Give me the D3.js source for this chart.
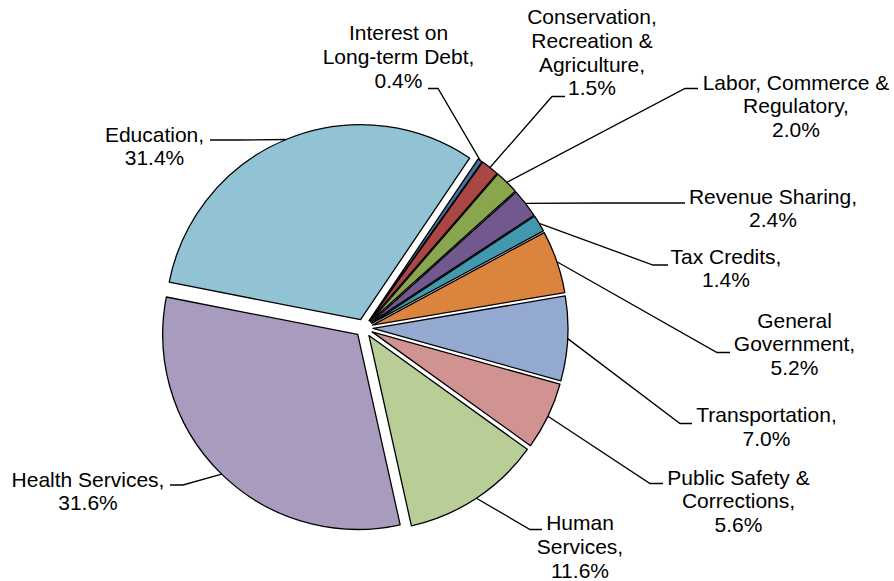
<!DOCTYPE html>
<html>
<head>
<meta charset="utf-8">
<script src="https://cdn.jsdelivr.net/npm/d3@7"></script>
<style>
  body { margin: 0; background: #fff; }
  svg { display: block; font-family: "Liberation Sans", Arial, sans-serif; }
</style>
</head>
<body>
<div id="chart"></div>
<script>
// Spending categories, clockwise from the top right
const categories = [
    ["Interest on", "Long-term Debt,"],
    ["Conservation,", "Recreation &", "Agriculture,"],
    ["Labor, Commerce &", "Regulatory,"],
    ["Revenue Sharing,"],
    ["Tax Credits,"],
    ["General", "Government,"],
    ["Transportation,"],
    ["Public Safety &", "Corrections,"],
    ["Human", "Services,"],
    ["Health Services,"],
    ["Education,"]
];

// Share of total, percent
const shares = [0.4, 1.5, 2.0, 2.4, 1.4, 5.2, 7.0, 5.6, 11.6, 31.6, 31.4];

const colors = ["#4572A7", "#AA4643", "#89A54E", "#71588F", "#4198AF", "#DB843D",
                "#93A9CF", "#D19392", "#B9CD96", "#A99BBD", "#91C3D5"];

// Label layout: text centre x, first baseline, leader elbow x/y, leader end x
const labelLayout = [
    [398.5, 40, 438, 88.5, 428],
    [592, 24, 552, 96.5, 565],
    [796, 89.5, 685, 88.5, 698],
    [773, 203.5, 600, 203, 685],
    [726, 263.5, 653, 265, 668],
    [794.5, 327.5, 717, 352.5, 730],
    [766.5, 422, 680, 423.5, 692],
    [738.5, 484.5, 650, 483.5, 663],
    [580, 530, 530, 529.5, 542],
    [88, 486.5, 183, 485, 170],
    [154.5, 141.5, 240, 140, 210]
];

const width = 894, height = 581;
const cx = 364, cy = 328, radius = 195, explode = 9;
const lineGap = 23.8;
const startDeg = 34;

const svg = d3.select("#chart")
    .append("svg")
    .attr("width", width)
    .attr("height", height);

const pie = d3.pie()
    .sort(null)
    .value(d => d)
    .startAngle(startDeg * Math.PI / 180)
    .endAngle(startDeg * Math.PI / 180 + 2 * Math.PI);

const arcs = pie(shares);
const arc = d3.arc().innerRadius(0).outerRadius(radius);
const mid = d => (d.startAngle + d.endAngle) / 2;

const pieGroup = svg.append("g")
    .attr("transform", `translate(${cx},${cy})`);

// Exploded slices
pieGroup.selectAll("path.slice")
    .data(arcs)
    .enter()
    .append("path")
    .attr("class", "slice")
    .attr("transform", d => `translate(${explode * Math.sin(mid(d))},${-explode * Math.cos(mid(d))})`)
    .attr("d", arc)
    .attr("fill", (d, i) => colors[i])
    .attr("stroke", "#000")
    .attr("stroke-width", 1.3)
    .attr("stroke-linejoin", "round");

// Leader lines from the slice rim to the label
svg.append("g")
    .selectAll("path.leader")
    .data(arcs)
    .enter()
    .append("path")
    .attr("class", "leader")
    .attr("fill", "none")
    .attr("stroke", "#000")
    .attr("stroke-width", 1.3)
    .attr("d", (d, i) => {
        const a = mid(d);
        const r = radius + explode;
        const p = labelLayout[i];
        const x0 = cx + r * Math.sin(a);
        const y0 = cy - r * Math.cos(a);
        return `M${x0},${y0}L${p[2]},${p[3]}L${p[4]},${p[3]}`;
    });

// Labels
const labels = svg.append("g")
    .selectAll("text")
    .data(arcs)
    .enter()
    .append("text")
    .attr("text-anchor", "middle")
    .style("font-size", "21px")
    .style("fill", "#000");

labels.each(function(d, i) {
    const p = labelLayout[i];
    const lines = categories[i].concat([shares[i].toFixed(1) + "%"]);
    d3.select(this).selectAll("tspan")
        .data(lines)
        .enter()
        .append("tspan")
        .attr("x", p[0])
        .attr("y", (t, j) => p[1] + j * lineGap)
        .text(t => t);
});
</script>
</body>
</html>
